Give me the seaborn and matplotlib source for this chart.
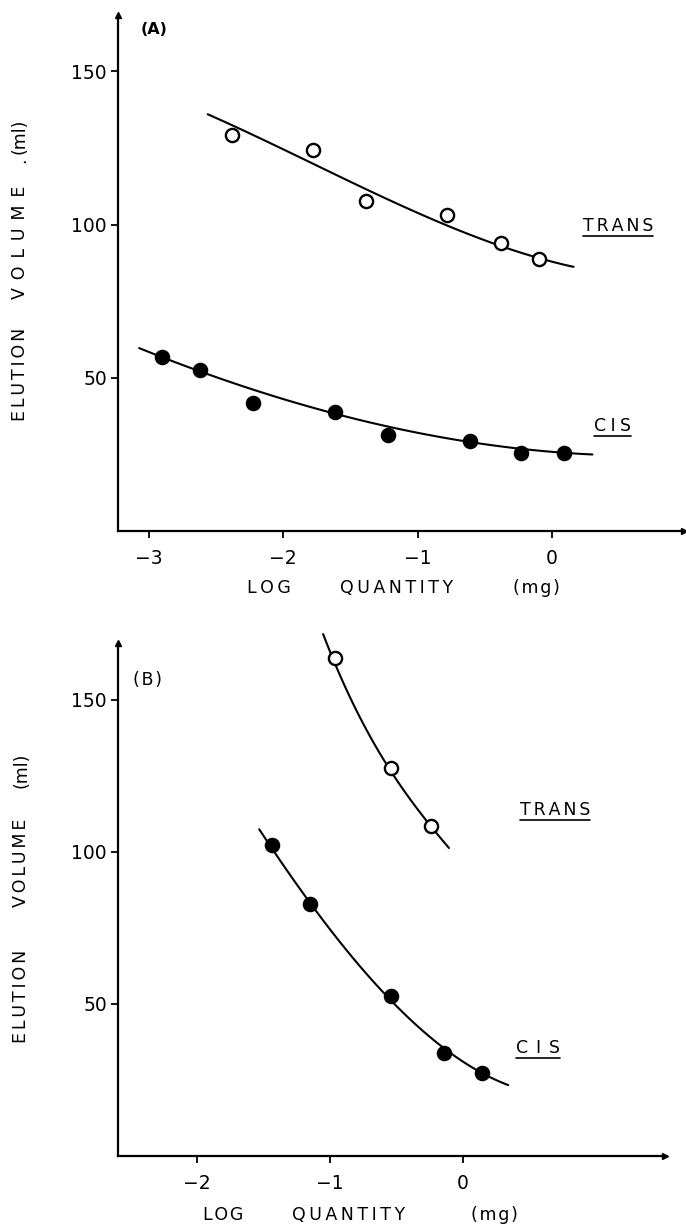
import numpy as np
import pandas as pd
import matplotlib
matplotlib.use("Agg")
import matplotlib.pyplot as plt
import seaborn as sns
from matplotlib.lines import Line2D

# ---------------- data ----------------
# Panel (A)
a_trans_x = [-2.38, -1.78, -1.38, -0.78, -0.38, -0.10]
a_trans_y = [129.2, 124.5, 107.8, 103.1, 94.1, 88.7]
a_cis_x = [-2.90, -2.62, -2.22, -1.61, -1.22, -0.61, -0.23, 0.09]
a_cis_y = [56.7, 52.5, 41.9, 38.7, 31.3, 29.5, 25.5, 25.5]
# hand-drawn fitted curves
a_trans_curve_x = [-2.56, -2.12, -1.87, -1.50, -1.28, -0.54, 0.16]
a_trans_curve_y = [135.7, 128.1, 121.3, 114.0, 109.0, 95.9, 86.1]
a_cis_curve_x = [-3.07, -2.56, -2.04, -1.52, -0.99, -0.37, 0.30]
a_cis_curve_y = [59.8, 50.9, 43.8, 37.3, 31.9, 27.5, 25.0]

# Panel (B)
b_trans_x = [-0.96, -0.54, -0.24]
b_trans_y = [163.7, 127.5, 108.6]
b_cis_x = [-1.43, -1.15, -0.54, -0.14, 0.14]
b_cis_y = [102.3, 82.8, 52.6, 34.0, 27.4]
b_trans_curve_x = [-1.05, -0.96, -0.85, -0.65, -0.54, -0.40, -0.24, -0.105]
b_trans_curve_y = [170.8, 163.7, 150.0, 133.6, 127.5, 117.1, 108.6, 101.2]
b_cis_curve_x = [-1.53, -1.43, -1.30, -1.15, -0.85, -0.54, -0.32, -0.14, 0.14, 0.34]
b_cis_curve_y = [108.0, 102.3, 89.7, 82.8, 67.8, 52.6, 41.4, 34.0, 27.4, 23.7]

y_ticks = [50, 100, 150]
a_x_ticks = [-3, -2, -1, 0]
b_x_ticks = [-2, -1, 0]

# ---------------- figure ----------------
sns.set_theme(style="ticks")
plt.rcParams["font.family"] = ["DejaVu Sans"]
plt.rcParams["text.color"] = "black"
plt.rcParams["axes.labelcolor"] = "black"
plt.rcParams["xtick.color"] = "black"
plt.rcParams["ytick.color"] = "black"

W, H = 686, 1226
fig = plt.figure(figsize=(W / 100, H / 100), dpi=100)

HAIR, SIX, FOUR, THIN = "\u200a", "\u2006", "\u2005", "\u2009"

def spaced(word, gap):
    return gap.join(list(word))

def px_axes(left, right, top, bottom):
    return fig.add_axes([left / W, 1 - bottom / H, (right - left) / W, (bottom - top) / H])

axA = px_axes(118, 684, 15, 531)
axB = px_axes(118, 665, 643, 1156)

def style_axis(ax, xlim, ylim, xticks):
    ax.set_xlim(*xlim)
    ax.set_ylim(*ylim)
    sns.despine(ax=ax)
    for s in ("left", "bottom"):
        ax.spines[s].set_linewidth(1.6)
        ax.spines[s].set_color("black")
    ax.set_xticks(xticks)
    ax.set_xticklabels(["\u2212%d" % abs(t) if t < 0 else "%d" % t for t in xticks])
    ax.set_yticks(y_ticks)
    ax.tick_params(axis="both", direction="out", length=5, width=1.3, color="black",
                   labelsize=13.5, labelcolor="black")
    ax.tick_params(axis="x", pad=8)
    ax.tick_params(axis="y", pad=3)
    ax.set_xlabel("")
    ax.set_ylabel("")
    ax.grid(False)
    # arrow heads at axis ends
    ax.plot(1, 0, marker=">", color="black", ms=5, transform=ax.transAxes, clip_on=False)
    ax.plot(0, 1, marker="^", color="black", ms=5, transform=ax.transAxes, clip_on=False)

def draw_series(ax, px, py, cx, cy, filled):
    sns.regplot(x=np.array(cx), y=np.array(cy), order=3, ci=None, scatter=False,
                truncate=True, ax=ax,
                line_kws=dict(color="black", lw=1.5, clip_on=False, zorder=2))
    sns.scatterplot(x=px, y=py, ax=ax, marker="o", s=90,
                    color="black" if filled else "white",
                    edgecolor="black", linewidth=1.7, zorder=3, clip_on=False)

draw_series(axA, a_trans_x, a_trans_y, a_trans_curve_x, a_trans_curve_y, False)
draw_series(axA, a_cis_x, a_cis_y, a_cis_curve_x, a_cis_curve_y, True)
style_axis(axA, (-3.227, 0.981), (0, 168.4), a_x_ticks)

draw_series(axB, b_trans_x, b_trans_y, b_trans_curve_x, b_trans_curve_y, False)
draw_series(axB, b_cis_x, b_cis_y, b_cis_curve_x, b_cis_curve_y, True)
style_axis(axB, (-2.59, 1.517), (0, 168.7), b_x_ticks)

# panel letters
axA.text(-2.96, 163.7, "(A)", fontsize=11.5, fontweight="bold", ha="center", va="center")
axB.text(-2.37, 156.4, spaced("(B)", HAIR), fontsize=12.5, ha="center", va="center")

# series labels (underlined)
under = []
under.append(axA.text(0.49, 99.4, spaced("TRANS", SIX), fontsize=12.5, ha="center", va="center"))
under.append(axA.text(0.45, 34.4, spaced("CIS", FOUR), fontsize=12.5, ha="center", va="center"))
under.append(axB.text(0.69, 113.7, spaced("TRANS", SIX), fontsize=12.5, ha="center", va="center"))
under.append(axB.text(0.56, 35.4, spaced("CIS", THIN + FOUR), fontsize=12.5, ha="center", va="center"))

# axis titles, word by word as in the original lettering
def ftext(x, y, s, rot=0, size=12.5):
    fig.text(x / W, 1 - y / H, s, rotation=rot, fontsize=size, ha="center", va="center")

for (y, s) in [(374, spaced("ELUTION", SIX)), (242, spaced("VOLUME", THIN + FOUR)),
               (160, "."), (136, "(ml)")]:
    ftext(20, y, s, rot=90)
for (x, s) in [(269, spaced("LOG", THIN)), (397, spaced("QUANTITY", THIN)),
               (536, spaced("(mg)", HAIR))]:
    ftext(x, 588, s)

for (y, s) in [(996, spaced("ELUTION", SIX)), (863, spaced("VOLUME", SIX)), (770, "(ml)")]:
    ftext(21, y, s, rot=90)
for (x, s) in [(223, spaced("LOG", HAIR)), (349, spaced("QUANTITY", THIN)),
               (494, spaced("(mg)", HAIR))]:
    ftext(x, 1215, s)

# underline the series labels
fig.canvas.draw()
r = fig.canvas.get_renderer()
inv = fig.transFigure.inverted()
for t in under:
    bb = t.get_window_extent(r)
    (x0, y0) = inv.transform((bb.x0, bb.y0 - 1))
    (x1, _) = inv.transform((bb.x1, bb.y0 - 1))
    fig.add_artist(Line2D([x0, x1], [y0, y0], transform=fig.transFigure,
                          color="black", lw=1.2))

fig.savefig("out.png", dpi=100, facecolor="white")
